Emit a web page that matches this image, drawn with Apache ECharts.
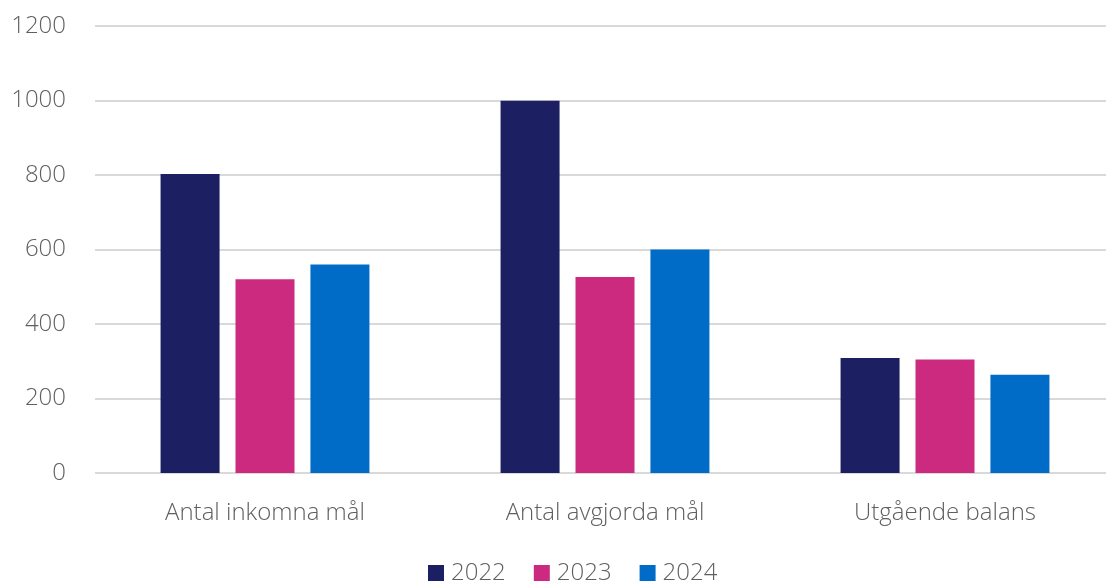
<!DOCTYPE html>
<html>
<head>
<meta charset="utf-8">
<script src="https://cdn.jsdelivr.net/npm/echarts@6/dist/echarts.min.js"></script>
<style>
  html, body { margin: 0; padding: 0; background: #fff; overflow: hidden; }
  /* plot area runs slightly past the right edge of the window, like the original */
  #chart { width: 1115px; height: 584px; }
</style>
</head>
<body>
<div id="chart"></div>
<script>
const categories = ["Antal inkomna mål", "Antal avgjorda mål", "Utgående balans"];
const years = ["2022", "2023", "2024"];
const values2022 = [803, 999, 309];
const values2023 = [520, 526, 305];
const values2024 = [560, 600, 264];
const yTicks = { min: 0, max: 1200, interval: 200 };

const colors = ["#1d1f63", "#cc2a7e", "#006cc7"];
const textColor = "#5f5f5f";
const font = "'Open Sans', sans-serif";

const chart = echarts.init(document.getElementById("chart"));

const makeSeries = (name, data, color) => ({
  name: name,
  type: "bar",
  data: data,
  barWidth: 59,
  barGap: "27%",
  itemStyle: { color: color },
});

const option = {
  animation: false,
  backgroundColor: "#fff",
  grid: {
    left: 95,
    top: 26,
    width: 1020,
    height: 447,
    containLabel: false,
  },
  legend: {
    left: 423,
    top: 556,
    itemWidth: 16,
    itemHeight: 16,
    itemGap: 28,
    icon: "rect",
    textStyle: {
      color: textColor,
      fontSize: 24,
      fontFamily: font,
      fontWeight: 300,
      padding: [0, 0, 0, 2],
    },
    data: years,
  },
  xAxis: {
    type: "category",
    data: categories,
    axisLine: { show: false },
    axisTick: { show: false },
    axisLabel: {
      color: textColor,
      fontSize: 24,
      fontFamily: font,
      fontWeight: 300,
      margin: 28,
    },
  },
  yAxis: {
    type: "value",
    min: yTicks.min,
    max: yTicks.max,
    interval: yTicks.interval,
    axisLine: { show: false },
    axisTick: { show: false },
    axisLabel: {
      color: textColor,
      fontSize: 24,
      fontFamily: font,
      fontWeight: 300,
      margin: 29,
      formatter: (v) => String(v),
    },
    splitLine: {
      lineStyle: { color: "#d9d9d9", width: 2 },
    },
  },
  series: [
    makeSeries(years[0], values2022, colors[0]),
    makeSeries(years[1], values2023, colors[1]),
    makeSeries(years[2], values2024, colors[2]),
  ],
};

chart.setOption(option);
</script>
</body>
</html>
